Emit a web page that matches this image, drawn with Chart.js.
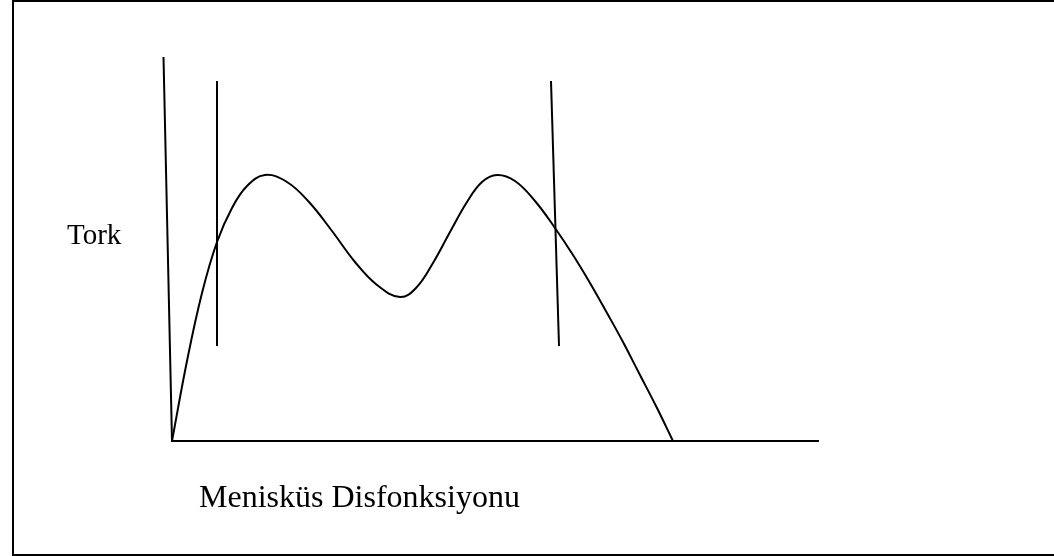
<!DOCTYPE html>
<html>
<head>
<meta charset="utf-8">
<script src="https://cdn.jsdelivr.net/npm/chart.js@4.4.1/dist/chart.umd.min.js"></script>
<style>
    html, body { margin: 0; padding: 0; background: #fff; }
    #wrap { position: relative; width: 1054px; height: 556px; overflow: hidden; }
    #frame { position: absolute; left: 12px; top: 0px; width: 1040px; height: 552px; border: 2px solid #000; }
    canvas { position: absolute; left: 0; top: 0; }
    .lbl { position: absolute; font-family: "Liberation Serif", "Times New Roman", serif; color: #000; line-height: 1; white-space: nowrap; }
    #yTitle { left: 67px; top: 220px; font-size: 29px; }
    #xTitle { left: 199px; top: 480px; font-size: 32px; }
</style>
</head>
<body>
<div id="wrap">
    <div id="frame"></div>
    <canvas id="chart" width="1054" height="556"></canvas>
    <div class="lbl" id="yTitle">Tork</div>
    <div class="lbl" id="xTitle">Menisküs Disfonksiyonu</div>
</div>
<script>
// torque curve (origin = axis corner)
const curveX = [0, 15, 30, 45, 60, 75, 93, 115, 137, 160, 183, 205, 228, 244, 261,
    278, 295, 310, 325, 343, 363, 383, 401, 418, 435, 451, 468, 485, 501];
const curveY = [0, 80, 148, 199, 233, 255, 266, 259, 239, 210, 179, 156, 144, 153, 178,
    209, 239, 259, 266, 260, 240, 213, 186, 158, 128, 99, 66, 33, 0];

// axes (the vertical one leans a bit)
const axisX = [-8.5, 0, 647];
const axisY = [384, 0, 0];

// the two marker lines
const leftMarkX = [45, 45];
const leftMarkY = [360, 95];
const rightMarkX = [379, 387];
const rightMarkY = [360, 95];

const toPoints = (xs, ys) => xs.map((x, i) => ({ x: x, y: ys[i] }));

const lineStyle = {
    borderColor: '#000',
    pointRadius: 0,
    showLine: true,
    fill: false,
    clip: false,
    tension: 0
};

const ctx = document.getElementById('chart').getContext('2d');
new Chart(ctx, {
    type: 'scatter',
    data: {
        datasets: [
            { ...lineStyle, label: 'Tork', data: toPoints(curveX, curveY), borderWidth: 2, tension: 0.4 },
            { ...lineStyle, label: 'axes', data: toPoints(axisX, axisY), borderWidth: 2 },
            { ...lineStyle, label: 'left', data: toPoints(leftMarkX, leftMarkY), borderWidth: 2 },
            { ...lineStyle, label: 'right', data: toPoints(rightMarkX, rightMarkY), borderWidth: 2 }
        ]
    },
    options: {
        responsive: false,
        animation: false,
        layout: { padding: 0 },
        plugins: { legend: { display: false }, tooltip: { enabled: false } },
        scales: {
            x: { type: 'linear', display: false, min: -172, max: 882 },
            y: { type: 'linear', display: false, min: -115, max: 441 }
        }
    }
});
</script>
</body>
</html>
